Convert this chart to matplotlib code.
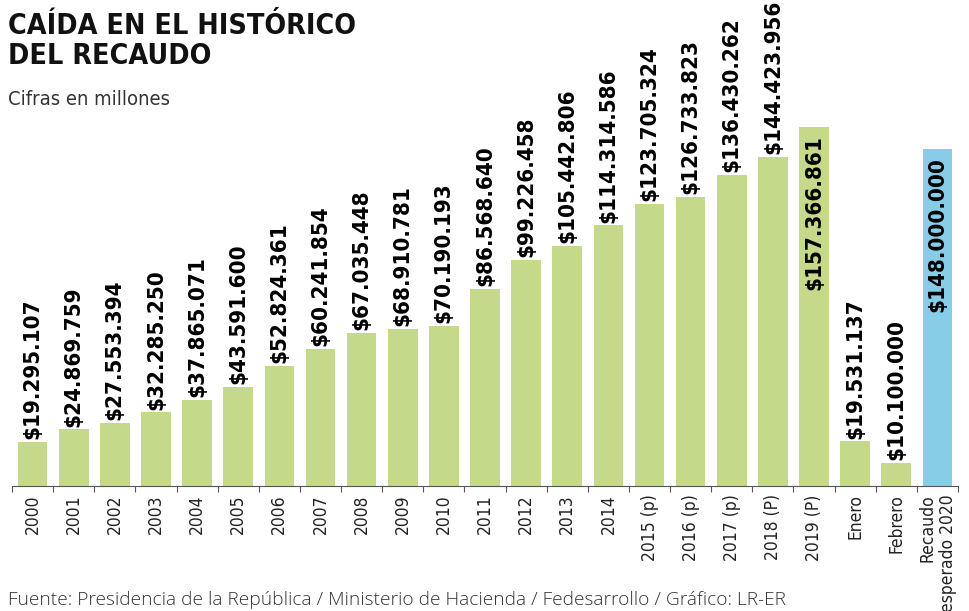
import matplotlib.pyplot as plt
from matplotlib.ticker import FixedLocator

categories = [str(y) for y in range(2000, 2015)] + [
    "2015 (p)", "2016 (p)", "2017 (p)", "2018 (P)", "2019 (P)",
    "Enero", "Febrero", "Recaudo\nesperado 2020"]
values = [19295107, 24869759, 27553394, 32285250, 37865071, 43591600,
          52824361, 60241854, 67035448, 68910781, 70190193, 86568640,
          99226458, 105442806, 114314586, 123705324, 126733823, 136430262,
          144423956, 157366861, 19531137, 10100000, 148000000]
inside = [19, 22]  # bars with the label inside

green = "#c5d98a"
blue = "#87cde8"
colors = [green] * (len(values) - 1) + [blue]

W, H = 969, 611
fig = plt.figure(figsize=(W / 100, H / 100), dpi=100)
ax = fig.add_axes([12 / W, (H - 486) / H, 946 / W, 476 / H])

vals_m = [v / 1e6 for v in values]
x = range(len(values))
ax.bar(x, vals_m, width=0.72, color=colors, zorder=2)
ax.set_xlim(-0.5, len(values) - 0.5)
ax.set_ylim(0, 476 / 2.28)

cond = dict(family="DejaVu Sans", fontstretch="condensed")
for i, v in enumerate(vals_m):
    txt = "$" + f"{values[i]:,}".replace(",", ".")
    if i in inside:
        ax.annotate(txt, (i, v), xytext=(0, -6), textcoords="offset points",
                    rotation=90, ha="center", va="top", fontsize=16,
                    fontweight="bold", color="black", **cond)
    else:
        ax.annotate(txt, (i, v), xytext=(0, 2), textcoords="offset points",
                    rotation=90, ha="center", va="bottom", fontsize=16,
                    fontweight="bold", color="black", **cond)

for s in ["top", "right", "left"]:
    ax.spines[s].set_visible(False)
ax.spines["bottom"].set_color("#555555")
ax.spines["bottom"].set_linewidth(0.8)
ax.set_yticks([])
ax.set_xticks(list(x))
ax.set_xticklabels(categories, rotation=90, ha="center", va="top",
                   fontsize=12.5, color="#222222", multialignment="right", **cond)
ax.tick_params(axis="x", which="major", length=0, pad=6)
ax.xaxis.set_minor_locator(FixedLocator([i - 0.5 for i in range(len(values) + 1)]))
ax.tick_params(axis="x", which="minor", length=4, width=0.8, color="#555555")

fig.text(8 / W, 1 - 12 / H, "CAÍDA EN EL HISTÓRICO\nDEL RECAUDO", ha="left", va="top",
         fontsize=20.5, fontweight="bold", color="#111111",
         linespacing=1.08, **cond)
fig.text(8 / W, 1 - 90 / H, "Cifras en millones", ha="left", va="top",
         fontsize=14.5, color="#333333", **cond)
fig.text(8 / W, 1 - 609 / H,
         "Fuente: Presidencia de la República / Ministerio de Hacienda / Fedesarrollo / Gráfico: LR-ER",
         ha="left", va="bottom", fontsize=13.8, family="Open Sans",
         fontweight="light", color="#333333")

fig.savefig("out.png", dpi=100)
